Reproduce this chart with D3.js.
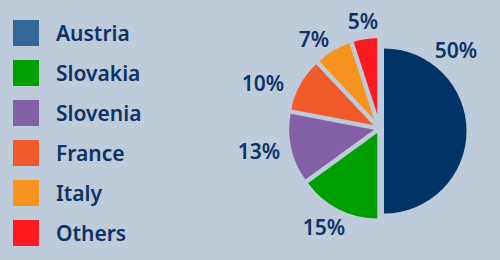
<!DOCTYPE html>
<html>
<head>
<meta charset="utf-8">
<script src="https://cdn.jsdelivr.net/npm/d3@7"></script>
<style>
  html, body { margin: 0; padding: 0; background: #bdcbdb; }
  svg { display: block; }
  text { font-family: "Noto Sans", "Open Sans", sans-serif; font-weight: 600; fill: #0d3366; }
</style>
</head>
<body>
<svg id="chart"></svg>
<script>
// data
const countries = ["Austria", "Slovakia", "Slovenia", "France", "Italy", "Others"];
const shares = [50, 15, 13, 10, 7, 5];
const slice_colors = ["#003366", "#00a000", "#8360a6", "#f15a2b", "#f7931e", "#ff1a22"];
const legend_colors = ["#336699", "#00a000", "#8360a6", "#f15a2b", "#f7931e", "#ff1a22"];

// label placement around the pie centre (degrees clockwise from top, px)
const label_angle = [44.3, 209.2, 259.0, 291.3, 323.8, 351.3];
const label_radius = [109.6, 113.9, 122.8, 125.1, 110.9, 108.8];

let chart_width = 500;
let chart_height = 260;
let cx = 379.5, cy = 128.5;
let reach = 90.5;      // outer reach of the small slices
let gap = 4.5;         // width of the gaps between slices
let big_radius = 82.5; // the Austria half
let big_shift = [4.5, 2.5];

const data = countries.map((c, i) => ({ name: c, value: shares[i], i: i }));

const svg = d3.select("#chart")
    .attr("width", chart_width)
    .attr("height", chart_height);

svg.append("rect")
    .attr("width", chart_width)
    .attr("height", chart_height)
    .attr("fill", "#bdcbdb");

// legend
const legend = svg.append("g");
const row = d3.scaleBand().domain(countries).range([20, 260]).paddingInner(0).paddingOuter(0);

legend.selectAll("rect").data(data).enter().append("rect")
    .attr("x", 13)
    .attr("y", d => row(d.name))
    .attr("width", 26)
    .attr("height", 26)
    .attr("fill", d => legend_colors[d.i]);

legend.selectAll("text").data(data).enter().append("text")
    .attr("x", 56)
    .attr("y", d => row(d.name) + 13)
    .attr("dy", "0.36em")
    .style("font-size", "21px")
    .text(d => d.name);

// pie
const pie = d3.pie().sort(null).value(d => d.value);
const arcs = pie(data).map(a => {
    let theta = a.endAngle - a.startAngle;
    let mid = (a.startAngle + a.endAngle) / 2;
    let off = (gap / 2) / Math.sin(theta / 2);
    a.r = reach - off;
    a.dx = off * Math.sin(mid);
    a.dy = -off * Math.cos(mid);
    if (a.index === 0) {
        a.r = big_radius;
        a.dx = big_shift[0];
        a.dy = big_shift[1];
    }
    return a;
});

const arc = d3.arc().innerRadius(0).outerRadius(d => d.r);

const pie_g = svg.append("g").attr("transform", "translate(" + cx + "," + cy + ")");

pie_g.selectAll("path").data(arcs).enter().append("path")
    .attr("transform", d => "translate(" + d.dx + "," + d.dy + ")")
    .attr("d", arc)
    .attr("fill", d => slice_colors[d.index]);

pie_g.selectAll("text").data(arcs).enter().append("text")
    .attr("x", d => label_radius[d.index] * Math.sin(label_angle[d.index] * Math.PI / 180))
    .attr("y", d => -label_radius[d.index] * Math.cos(label_angle[d.index] * Math.PI / 180))
    .attr("dy", "0.36em")
    .attr("text-anchor", "middle")
    .style("font-size", "21px")
    .text(d => d.data.value + "%");
</script>
</body>
</html>
